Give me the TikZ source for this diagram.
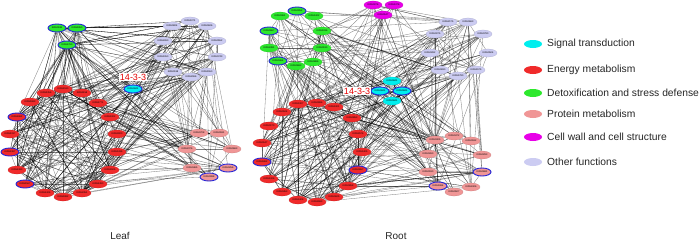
\documentclass[tikz,border=0pt]{standalone}
\usepackage{fontspec}
\setmainfont{Liberation Sans}
\usetikzlibrary{shapes.geometric,backgrounds}
\pgfdeclarelayer{paper}
\pgfsetlayers{paper,background,main}
\definecolor{cSig}{RGB}{0,238,238}
\definecolor{cEn}{RGB}{240,42,42}
\definecolor{cDet}{RGB}{45,232,45}
\definecolor{cPro}{RGB}{240,150,150}
\definecolor{cCell}{RGB}{232,0,232}
\definecolor{cOth}{RGB}{204,204,242}
\definecolor{cBlue}{RGB}{35,35,215}
\tikzset{
 kog/.style={ellipse, minimum width=18pt, minimum height=8pt, inner sep=0pt,
   font=\fontsize{2.4}{3}\selectfont, text=black},
 sig/.style={kog, fill=cSig, draw=cSig!85!black, line width=0.25pt},
 en/.style={kog, fill=cEn, draw=cEn!85!black, line width=0.25pt},
 det/.style={kog, fill=cDet, draw=cDet!85!black, line width=0.25pt},
 pro/.style={kog, fill=cPro, draw=cPro!85!black, line width=0.25pt},
 cel/.style={kog, fill=cCell, draw=cCell!85!black, line width=0.25pt},
 oth/.style={kog, fill=cOth, draw=cOth!85!black, line width=0.25pt},
 sigb/.style={sig, draw=cBlue, line width=0.9pt},
 enb/.style={en, draw=cBlue, line width=0.9pt},
 detb/.style={det, draw=cBlue, line width=0.9pt},
 prob/.style={pro, draw=cBlue, line width=0.9pt},
 edge/.style={draw=black, line width=0.32pt, opacity=0.5},
 legdot/.style={ellipse, minimum width=18pt, minimum height=8pt, inner sep=0pt},
 legtxt/.style={anchor=west, font=\fontsize{10.3}{12}\selectfont, text=black!85, inner sep=0pt},
 tagtxt/.style={fill=white, text=red!90!black, font=\fontsize{9}{10}\selectfont, inner sep=0.6pt},
 captxt/.style={font=\fontsize{10}{12}\selectfont, text=black!85},
}
\begin{document}
\begin{tikzpicture}[x=1pt,y=-1pt]
\useasboundingbox (0,0) rectangle (700,241);
\begin{pgfonlayer}{paper}
\fill[white] (0,0) rectangle (700,241);
\end{pgfonlayer}
% ---------------- Leaf network ----------------
\foreach \n/\x/\y/\s/\t in {
 L1/57/28/detb/KOG0911, L2/77/28/detb/KOG0850, L3/67/45/detb/KOG1760,
 L4/190/21/oth/KOG1071, L5/172/26/oth/KOG0824, L6/207/26/oth/KOG0626,
 L7/163/41/oth/KOG2260, L8/217/41/oth/KOG0552, L9/163/57/oth/KOG1050,
 L10/217/57/oth/KOG0743, L11/173/72/oth/KOG0118, L12/207/72/oth/KOG1550,
 L13/191/77/oth/KOG2066,
 L14/133/89/sigb/KOG0841,
 L15/63/89/en/KOG1530, L16/46/93/en/KOG2356, L17/82/93/en/KOG1158,
 L18/30/102/en/KOG0683, L19/98/103/en/KOG1771, L20/17/117/enb/KOG1862,
 L21/110/117/en/KOG1322, L22/10/134/en/KOG2317, L23/117/134/en/KOG3000,
 L24/10/152/enb/KOG1367, L25/117/152/en/KOG1436, L26/17/170/en/KOG4383,
 L27/110/170/en/KOG1505, L28/25/184/enb/KOG0567, L29/98/184/en/KOG1490,
 L30/45/193/en/KOG1426, L31/63/197/en/KOG0882, L32/82/193/en/KOG2351,
 L33/199/133/pro/KOG0708, L34/219/133/pro/KOG0181, L35/187/149/pro/KOG2376,
 L36/232/149/pro/KOG0663, L37/192/168/pro/KOG0465, L38/228/168/prob/KOG0256,
 L39/209/177/prob/KOG0088}
 {\node[\s] (\n) at (\x,\y) {\t};}
% ---------------- Root network ----------------
\foreach \n/\x/\y/\s/\t in {
 R1/297/11/detb/KOG0052, R2/280/16/det/KOG0361, R3/314/16/det/KOG1422,
 R4/269/31/detb/KOG0967, R5/322/31/det/KOG1036, R6/269/48/det/KOG2491,
 R7/322/48/det/KOG0130, R8/278/61/detb/KOG0464, R9/296/66/det/KOG0683,
 R10/313/62/det/KOG0886,
 R11/373/5/cel/KOG0076, R12/394/5/cel/KOG1376, R13/383/15/cel/KOG0147,
 R14/448/22/oth/KOG2175, R15/468/22/oth/KOG0663, R16/435/34/oth/KOG0075,
 R17/483/34/oth/KOG0780, R18/430/53/oth/KOG0282, R19/488/53/oth/KOG0504,
 R20/440/70/oth/KOG0830, R21/476/70/oth/KOG1575, R22/458/76/oth/KOG1780,
 R23/392/81/sig/KOG0841, R24/380/91/sigb/KOG0841, R25/402/91/sigb/KOG0841,
 R26/392/101/sig/KOG0841,
 R27/298/104/en/KOG1307, R28/317/103/en/KOG0986, R29/334/107/en/KOG1301,
 R30/282/112/en/KOG0524, R31/352/118/en/KOG0853, R32/269/126/en/KOG0170,
 R33/358/134/en/KOG2576, R34/262/143/en/KOG0147, R35/362/152/en/KOG1405,
 R36/262/162/enb/KOG1862, R37/358/170/enb/KOG0657, R38/269/179/en/KOG1326,
 R39/348/186/en/KOG0858, R40/282/192/en/KOG0453, R41/298/200/en/KOG1406,
 R42/317/202/en/KOG2683, R43/334/197/en/KOG0625,
 R44/454/136/pro/KOG0472, R45/435/140/pro/KOG0305, R46/471/141/pro/KOG0182,
 R47/428/154/pro/KOG0260, R48/482/155/pro/KOG0293, R49/428/172/pro/KOG0190,
 R50/482/172/prob/KOG0681, R51/438/186/prob/KOG1984, R52/454/192/pro/KOG0507,
 R53/471/187/pro/KOG2426}
 {\node[\s] (\n) at (\x,\y) {\t};}
% ---------------- connectors ----------------
\begin{pgfonlayer}{background}
\pgfmathsetseed{4711}
% leaf: energy - energy
\foreach \k in {1,...,130}{
  \pgfmathrandominteger{\a}{15}{32}\pgfmathrandominteger{\b}{15}{32}
  \pgfmathtruncatemacro{\b}{\b==\a ? (\a==15 ? 16 : 15) : \b}
  \draw[edge] (L\a) -- (L\b);}
% leaf: energy - others
\foreach \k in {1,...,170}{
  \pgfmathrandominteger{\a}{15}{32}\pgfmathrandominteger{\b}{1}{21}
  \pgfmathtruncatemacro{\b}{\b>14 ? \b+18 : \b}
  \draw[edge] (L\a) -- (L\b);}
% leaf: detox hubs
\foreach \k in {1,...,45}{
  \pgfmathrandominteger{\a}{1}{3}\pgfmathrandominteger{\b}{4}{39}
  \draw[edge] (L\a) -- (L\b);}
% leaf: others - others
\foreach \k in {1,...,70}{
  \pgfmathrandominteger{\a}{1}{21}\pgfmathrandominteger{\b}{1}{21}
  \pgfmathtruncatemacro{\a}{\a>14 ? \a+18 : \a}
  \pgfmathtruncatemacro{\b}{\b>14 ? \b+18 : \b}
  \pgfmathtruncatemacro{\b}{\b==\a ? (\a==1 ? 2 : 1) : \b}
  \draw[edge] (L\a) -- (L\b);}
% root: energy - energy
\foreach \k in {1,...,80}{
  \pgfmathrandominteger{\a}{27}{43}\pgfmathrandominteger{\b}{27}{43}
  \pgfmathtruncatemacro{\b}{\b==\a ? (\a==27 ? 28 : 27) : \b}
  \draw[edge] (R\a) -- (R\b);}
% root: energy - others
\foreach \k in {1,...,180}{
  \pgfmathrandominteger{\a}{27}{43}\pgfmathrandominteger{\b}{1}{36}
  \pgfmathtruncatemacro{\b}{\b>26 ? \b+17 : \b}
  \draw[edge] (R\a) -- (R\b);}
% root: others - others
\foreach \k in {1,...,130}{
  \pgfmathrandominteger{\a}{1}{36}\pgfmathrandominteger{\b}{1}{36}
  \pgfmathtruncatemacro{\a}{\a>26 ? \a+17 : \a}
  \pgfmathtruncatemacro{\b}{\b>26 ? \b+17 : \b}
  \pgfmathtruncatemacro{\b}{\b==\a ? (\a==1 ? 2 : 1) : \b}
  \draw[edge] (R\a) -- (R\b);}
\end{pgfonlayer}
% ---------------- labels ----------------
\node[tagtxt] (t1) at (133,77) {14-3-3};
\node[tagtxt] (t2) at (357,91) {14-3-3};
\node[captxt] (leaf) at (120,236) {Leaf};
\node[captxt] (root) at (396,236) {Root};
% ---------------- legend ----------------
\foreach \i/\y/\c/\t in {1/44/cSig/Signal transduction, 2/70/cEn/Energy metabolism,
  3/93/cDet/Detoxification and stress defense, 4/114/cPro/Protein metabolism,
  5/137/cCell/Cell wall and cell structure, 6/162/cOth/Other functions}
 {\node[legdot, fill=\c] (k\i) at (533,\y) {};
  \node[legtxt] (d\i) at (547,\y) {\t};}
\end{tikzpicture}
\end{document}
